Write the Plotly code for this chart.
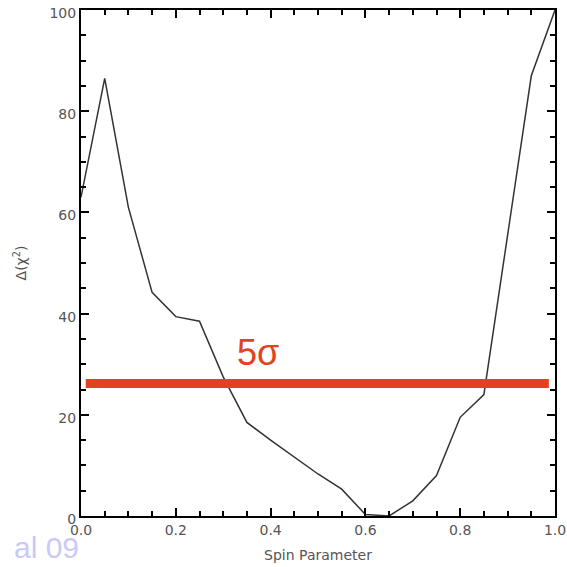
import plotly.graph_objects as go

spin = [0.0, 0.05, 0.10, 0.15, 0.20, 0.25, 0.30, 0.35, 0.40, 0.45, 0.50,
        0.55, 0.60, 0.65, 0.70, 0.75, 0.80, 0.85, 0.90, 0.95, 1.00]
dchi2 = [63.0, 86.5, 61.0, 44.2, 39.4, 38.5, 27.5, 18.5, 15.0, 11.6, 8.3,
         5.3, 0.3, 0.0, 3.0, 8.0, 19.5, 24.0, 56.0, 87.0, 100.0]

sigma_level = 26.2
sigma_x = [0.01, 0.987]
sigma_label = "5σ"
x_ticks = [0.0, 0.2, 0.4, 0.6, 0.8, 1.0]
x_tick_text = ["0.0", "0.2", "0.4", "0.6", "0.8", "1.0"]
y_ticks = [0, 20, 40, 60, 80, 100]
y_tick_text = ["0", "20", "40", "60", "80", "100"]

fig = go.Figure()
fig.add_trace(go.Scatter(x=spin, y=dchi2, mode="lines",
                         line=dict(color="#333333", width=1.5), showlegend=False))
fig.add_trace(go.Scatter(x=sigma_x, y=[sigma_level, sigma_level], mode="lines",
                         line=dict(color="#E2421E", width=9), showlegend=False))

fig.add_annotation(x=0.373, y=32.3, xref="x", yref="y", text=sigma_label,
                   showarrow=False, font=dict(family="Liberation Sans", size=36, color="#E2421E"))
fig.add_annotation(x=-0.146, y=-0.063, xref="paper", yref="paper", text="al 09",
                   showarrow=False, xanchor="left", yanchor="middle",
                   font=dict(family="Liberation Sans", size=30, color="#C9C9F7"))

axis_common = dict(showline=True, linecolor="black", linewidth=2, mirror="allticks",
                   ticks="inside", tickcolor="black", tickwidth=1.5, ticklen=8,
                   showgrid=False, zeroline=False, automargin=False,
                   ticklabeloverflow="allow",
                   tickfont=dict(family="DejaVu Sans", size=14, color="#555555"))

fig.update_xaxes(range=[0, 1], tickvals=x_ticks, ticktext=x_tick_text,
                 minor=dict(dtick=0.05, ticks="inside", ticklen=5, tickcolor="black", tickwidth=1.5),
                 title=dict(text="Spin Parameter", standoff=13,
                            font=dict(family="DejaVu Sans", size=14, color="#555555")),
                 **axis_common)
fig.update_yaxes(range=[0, 100], tickvals=y_ticks, ticktext=y_tick_text,
                 ticklabelshift=3,
                 minor=dict(dtick=5, ticks="inside", ticklen=5, tickcolor="black", tickwidth=1.5),
                 title=dict(text="Δ(χ<sup>2</sup>)", standoff=20,
                            font=dict(family="DejaVu Sans", size=14, color="#555555")),
                 **axis_common)

fig.update_layout(width=567, height=567, margin=dict(l=81, r=12, t=10, b=51),
                  plot_bgcolor="white", paper_bgcolor="white")
fig.write_html("out.html", config={"displayModeBar": False},
               post_script="document.body.style.margin='0';document.body.style.overflow='hidden';")
